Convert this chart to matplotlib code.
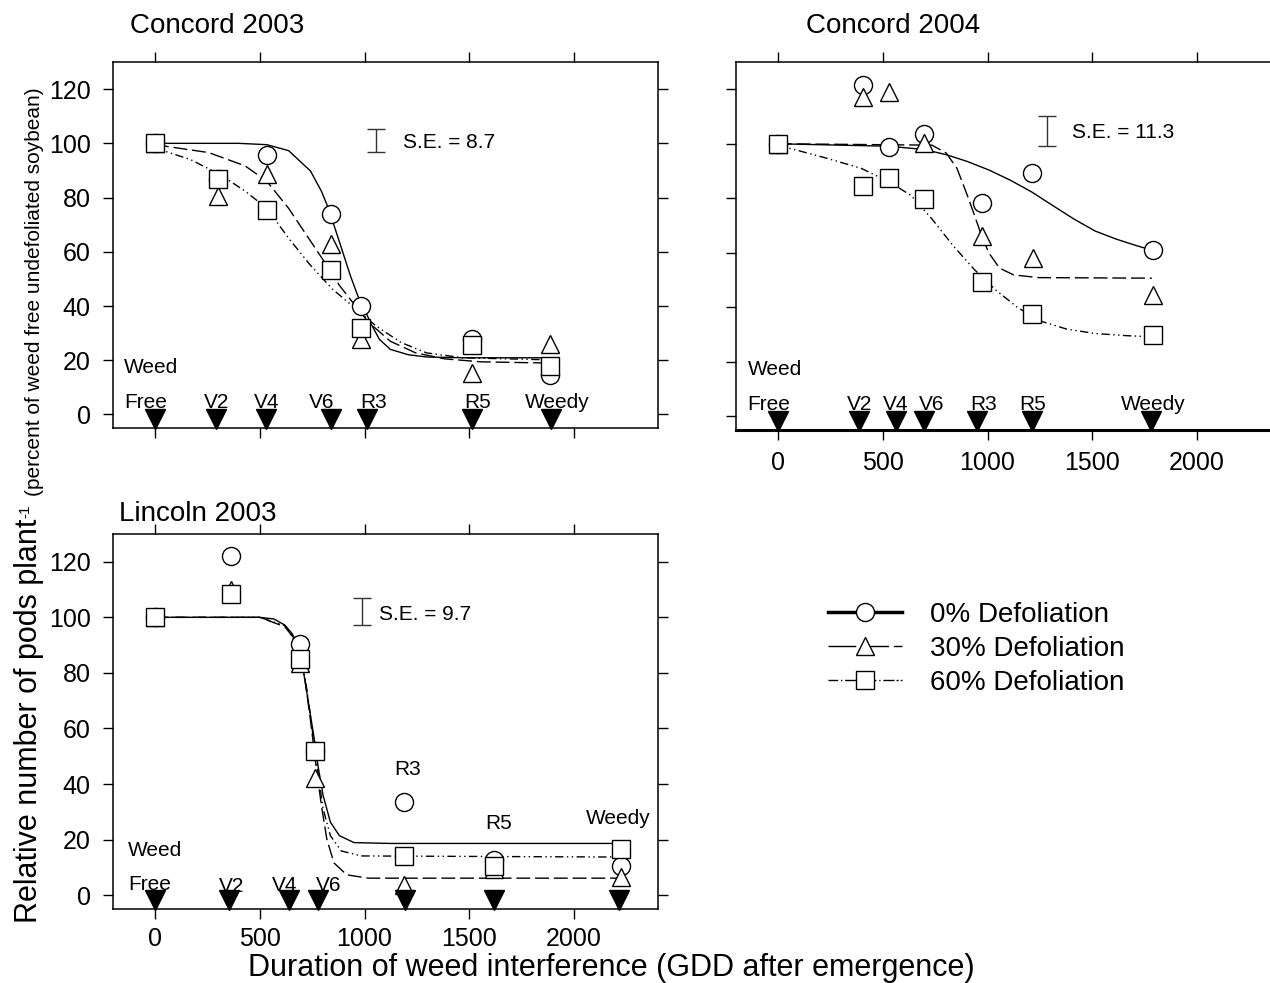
import matplotlib
matplotlib.use('Agg')
import matplotlib.pyplot as plt
from matplotlib.lines import Line2D

plt.rcParams['font.family'] = ['Liberation Sans', 'DejaVu Sans']
plt.rcParams['mathtext.default'] = 'regular'

LEVELS = ['0% Defoliation', '30% Defoliation', '60% Defoliation']
STAGES = ['Free', 'V2', 'V4', 'V6', 'R3', 'R5', 'Weedy']
SE_TEXT = ['S.E. = 8.7', 'S.E. = 11.3', 'S.E. = 9.7']
SE_VALUE = [8.7, 11.3, 9.7]

# ---- Concord 2003 ----
c03_stage_gdd = [0, 290, 528, 838, 1010, 1514, 1890]
c03_obs_gdd = [0, 302, 534, 842, 984, 1513, 1886]
c03_obs_0 = [100, 86.8, 95.7, 74, 39.9, 28, 14.7]
c03_obs_30 = [100, 80.5, 88.6, 62.7, 28, 15.3, 25.8]
c03_obs_60 = [100, 86.8, 75.3, 53.2, 32, 25.5, 17.8]
c03_fit_0_x = [0, 400, 534, 638, 742, 794, 828, 880, 932, 967, 1002, 1036, 1071, 1123, 1210, 1296, 1470, 1886]
c03_fit_0_y = [100, 100, 99.5, 97.3, 89.8, 82.4, 76, 63.7, 51.3, 43.9, 38.3, 32.7, 27.7, 24, 22, 21.2, 20.9, 20.9]
c03_fit_30_x = [0, 256, 430, 534, 638, 742, 811, 880, 950, 1019, 1123, 1244, 1383, 1557, 1850]
c03_fit_30_y = [99.5, 96.6, 91.7, 86, 76, 64, 56, 47.6, 40.7, 34, 27, 22.7, 20.5, 19.4, 19]
c03_fit_60_x = [0, 170, 308, 430, 534, 638, 742, 846, 950, 1054, 1175, 1296, 1470, 1850]
c03_fit_60_y = [98.3, 94, 88.6, 82.4, 76, 65, 55, 46.3, 39.5, 32.7, 26.5, 22.7, 20.9, 20.2]

# ---- Concord 2004 ----
c04_stage_gdd = [0, 389, 561, 697, 950, 1212, 1780]
c04_obs_gdd = [0, 406, 529, 698, 975, 1212, 1787]
c04_obs_0 = [100, 121.5, 98.9, 103.7, 78.4, 89.2, 60.9]
c04_obs_30_gdd = [0, 406, 529, 698, 975, 1217, 1787]
c04_obs_30 = [100, 117, 119, 100.4, 66.2, 58.1, 44.5]
c04_obs_60 = [100, 84.6, 87.3, 79.9, 49.4, 37.6, 29.9]
c04_fit_0_x = [0, 529, 698, 803, 904, 1006, 1107, 1209, 1310, 1412, 1513, 1615, 1716, 1775]
c04_fit_0_y = [100, 99.1, 97.9, 96, 93.5, 90.4, 86.7, 82.4, 77.4, 72.4, 68, 65, 62.5, 61.2]
c04_fit_30_x = [0, 735, 803, 854, 904, 938, 972, 1006, 1057, 1124, 1243, 1784]
c04_fit_30_y = [100, 99.5, 96.6, 91, 81, 73.7, 66.2, 60, 54.4, 51.9, 50.9, 50.7]
c04_fit_60_x = [0, 228, 397, 529, 634, 735, 837, 938, 1040, 1141, 1243, 1378, 1513, 1665, 1784]
c04_fit_60_y = [99.5, 94.8, 91, 86.1, 81.1, 72.4, 62.5, 53.8, 46.3, 40.1, 35.2, 32, 30.4, 29.6, 29.2]

# ---- Lincoln 2003 ----
l03_stage_gdd = [0, 355, 641, 780, 1192, 1617, 2215]
l03_obs_gdd = [0, 364, 690, 763, 1189, 1617, 2223]
l03_obs_0 = [100, 122, 90.5, 52, 33.6, 12.8, 10.4]
l03_obs_30 = [100, 110, 83.5, 42.2, 3.7, 9.5, 6.7]
l03_obs_60 = [100, 108.4, 85, 52, 14, 10.4, 16.5]
l03_fit_0_x = [0, 500, 568, 620, 655, 681, 707, 733, 759, 777, 802, 837, 880, 950, 1123, 2215]
l03_fit_0_y = [100, 100, 99.4, 97.2, 94.1, 89.9, 81.3, 69, 56.8, 47, 36, 26.3, 21.4, 18.9, 18.6, 18.6]
l03_fit_30_x = [0, 500, 620, 664, 690, 716, 742, 768, 794, 820, 854, 915, 1019, 2232]
l03_fit_30_y = [100, 100, 96.6, 92.4, 87.4, 77.6, 63, 47, 32.4, 20.2, 11.6, 7.3, 6.1, 6.1]
l03_fit_60_x = [0, 500, 620, 672, 700, 725, 751, 777, 802, 837, 889, 984, 2232]
l03_fit_60_y = [100, 100, 97, 91, 85, 74, 59.3, 44.6, 31.2, 21.4, 15.9, 14.1, 13.7]

# ---- styling ----
MARKERS = ['o', '^', 's']
DASHES = ['-', (0, (10, 3.5)), (0, (6, 2.5, 1, 2.5, 1, 2.5))]
MS = 13

fig = plt.figure(figsize=(12.7, 9.83), dpi=100)
W, H = 1270.0, 983.0


def px_axes(left, top, width, height):
    return fig.add_axes([left / W, 1 - (top + height) / H, width / W, height / H])


def draw_panel(ax, obs, fits, stage_gdd, stage_lab, se_pos, se_idx):
    for i, (fx, fy) in enumerate(fits):
        ax.plot(fx, fy, color='black', lw=1.0, linestyle=DASHES[i], zorder=2)
    for i, (ox, oy) in enumerate(obs):
        ax.plot(ox, oy, linestyle='none', marker=MARKERS[i], ms=MS,
                mfc='white', mec='black', mew=1.0, zorder=3 + i, clip_on=False)
    ax.plot(stage_gdd, [-1.8] * len(stage_gdd), linestyle='none', marker='v',
            ms=14, color='black', zorder=8, clip_on=False)
    weed_x, weed_y, lab_y, lab_x = stage_lab
    ax.text(weed_x, weed_y, 'Weed', fontsize=15, ha='left', va='center')
    for name, lx, ly in zip(STAGES, lab_x, lab_y):
        ax.text(lx, ly, name, fontsize=15, ha='left' if name == 'Free' else 'center',
                va='center', zorder=5)
    bx, by, tx, ty = se_pos
    ax.errorbar([bx], [by], yerr=SE_VALUE[se_idx] / 2, fmt='none', ecolor='#333333',
                elinewidth=1.0, capsize=6.5, capthick=1.0)
    ax.text(tx, ty, SE_TEXT[se_idx], fontsize=15, ha='left', va='center')

    ax.set_xlim(-200, 2400)
    ax.set_ylim(-5, 130)
    ax.set_xticks([0, 500, 1000, 1500, 2000])
    ax.set_yticks([0, 20, 40, 60, 80, 100, 120])
    for s in ax.spines.values():
        s.set_linewidth(1.1)
    ax.tick_params(direction='out', length=7, width=1.0, labelsize=18,
                   top=True, right=True)
    ax.tick_params(axis='y', pad=9)
    ax.tick_params(axis='x', pad=6)


# Concord 2003
ax1 = px_axes(113, 62, 545, 366)
draw_panel(ax1,
           [(c03_obs_gdd, c03_obs_0), (c03_obs_gdd, c03_obs_30), (c03_obs_gdd, c03_obs_60)],
           [(c03_fit_0_x, c03_fit_0_y), (c03_fit_30_x, c03_fit_30_y), (c03_fit_60_x, c03_fit_60_y)],
           c03_stage_gdd,
           (-146, 17.2, [4.5] * 7, [-146, 295, 534, 794, 1045, 1539, 1920]),
           (1057, 101, 1184, 100.4), 0)
ax1.tick_params(labelbottom=False)

# Concord 2004
ax2 = px_axes(736, 62, 545, 368)
draw_panel(ax2,
           [(c04_obs_gdd, c04_obs_0), (c04_obs_30_gdd, c04_obs_30), (c04_obs_gdd, c04_obs_60)],
           [(c04_fit_0_x, c04_fit_0_y), (c04_fit_30_x, c04_fit_30_y), (c04_fit_60_x, c04_fit_60_y)],
           c04_stage_gdd,
           (-144, 17.2, [4.5] * 7, [-144, 389, 561, 732, 980, 1217, 1792]),
           (1285, 104.7, 1403, 104.3), 1)
ax2.tick_params(labelleft=False, right=False)
ax2.tick_params(axis='x', pad=8)
ax2.spines['bottom'].set_linewidth(2.2)

# Lincoln 2003
ax3 = px_axes(113, 534, 545, 375)
draw_panel(ax3,
           [(l03_obs_gdd, l03_obs_0), (l03_obs_gdd, l03_obs_30), (l03_obs_gdd, l03_obs_60)],
           [(l03_fit_0_x, l03_fit_0_y), (l03_fit_30_x, l03_fit_30_y), (l03_fit_60_x, l03_fit_60_y)],
           l03_stage_gdd,
           (-128, 15.9, [3.7, 3.1, 3.5, 3.5, 45.2, 25.7, 27.5],
            [-128, 364, 620, 828, 1206, 1640, 2211]),
           (988, 102, 1071, 101.2), 2)

# panel titles
fig.text(130 / W, 1 - 33 / H, 'Concord 2003', fontsize=20, va='baseline')
fig.text(806 / W, 1 - 33 / H, 'Concord 2004', fontsize=20, va='baseline')
fig.text(119 / W, 1 - 521 / H, 'Lincoln 2003', fontsize=20, va='baseline')

# axis labels
fig.text(611 / W, 1 - 976 / H, 'Duration of weed interference (GDD after emergence)',
         fontsize=22, ha='center', va='baseline')
ylab = fig.text(37 / W, 1 - 923 / H, 'Relative number of pods plant', fontsize=22,
                rotation=90, rotation_mode='anchor', ha='left', va='baseline')
fig.canvas.draw()
renderer = fig.canvas.get_renderer()
top_px = ylab.get_window_extent(renderer).y1
sup = fig.text(29 / W, (top_px + 1) / H, '-1', fontsize=11,
               rotation=90, rotation_mode='anchor', ha='left', va='baseline')
fig.canvas.draw()
sup_top = sup.get_window_extent(renderer).y1
fig.text(40 / W, (sup_top + 8) / H, '(percent of weed free undefoliated soybean)', fontsize=15,
         rotation=90, rotation_mode='anchor', ha='left', va='baseline')

# legend
handles = [
    Line2D([], [], color='black', lw=2.5, linestyle='-', marker='o', ms=MS,
           mfc='white', mec='black'),
    Line2D([], [], color='black', lw=1.0, linestyle=(0, (20, 3.5)), marker='^', ms=MS,
           mfc='white', mec='black'),
    Line2D([], [], color='black', lw=1.0, linestyle=(0, (7, 2, 1, 2, 8, 1.5, 1.5, 1.5, 1.5, 1.5)),
           marker='s', ms=MS, mfc='white', mec='black'),
]
fig.legend(handles, LEVELS, loc='upper left', bbox_to_anchor=(828 / W, 1 - 602 / H),
           frameon=False, fontsize=20, handlelength=2.66, handletextpad=1.0,
           labelspacing=0.28, borderpad=0, borderaxespad=0)

fig.savefig('out.png', dpi=100)
